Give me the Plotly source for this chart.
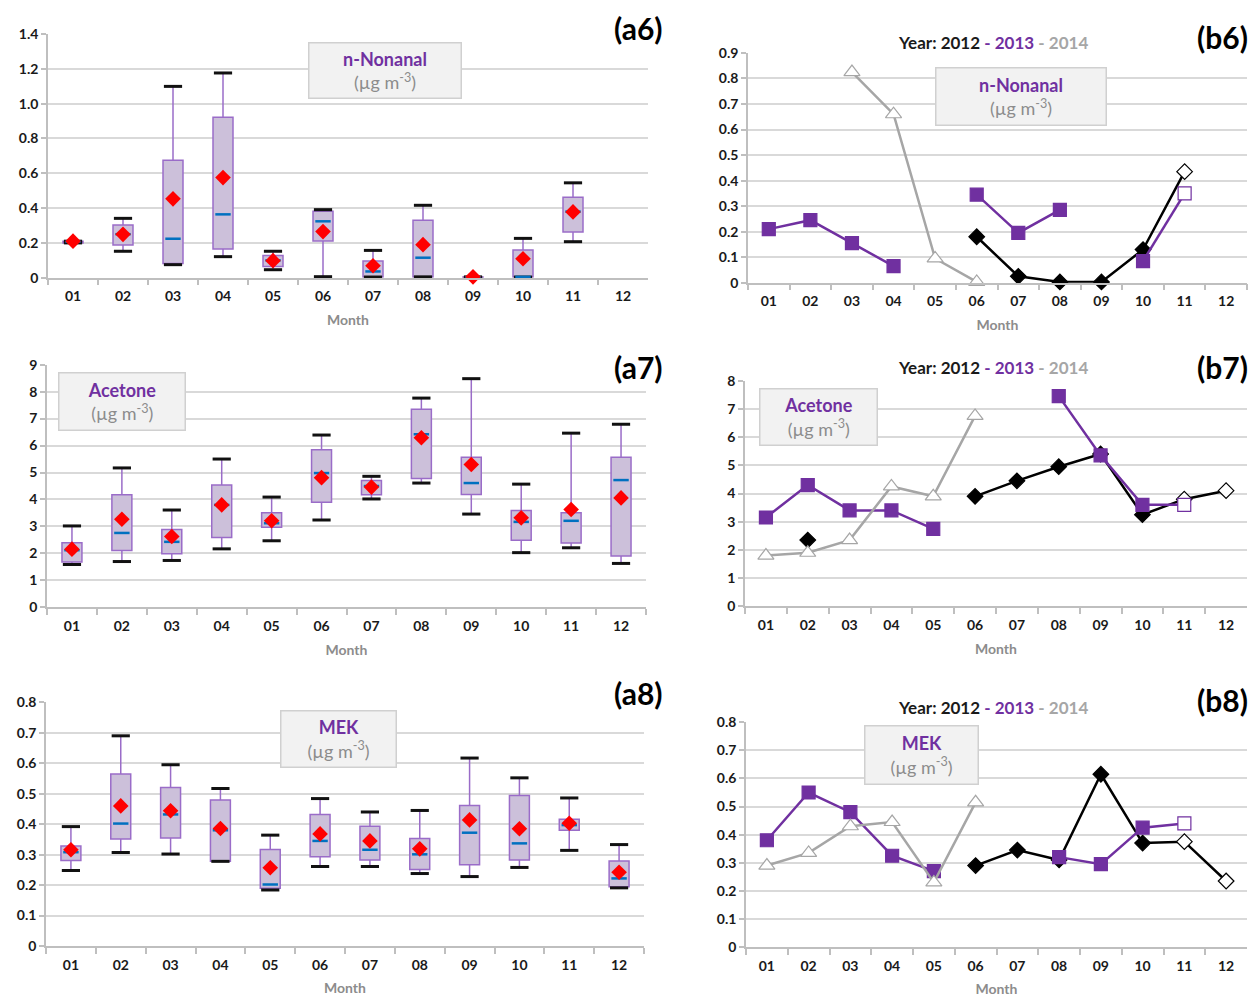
import plotly.graph_objects as go
from plotly.subplots import make_subplots

months = ["01", "02", "03", "04", "05", "06", "07", "08", "09", "10", "11", "12"]

# ---- (a) monthly box statistics ----
non_lower = [0.200, 0.152, 0.075, 0.121, 0.046, 0.006, 0.004, 0.005, 0.003, 0.004, 0.207, None]
non_q1 = [0.200, 0.188, 0.082, 0.165, 0.065, 0.211, 0.004, 0.004, 0.003, 0.004, 0.263, None]
non_median = [0.207, 0.250, 0.224, 0.364, 0.100, 0.324, 0.036, 0.115, 0.003, 0.005, 0.380, None]
non_q3 = [0.210, 0.303, 0.675, 0.922, 0.128, 0.382, 0.096, 0.330, 0.004, 0.159, 0.462, None]
non_upper = [0.210, 0.341, 1.099, 1.176, 0.152, 0.391, 0.157, 0.416, 0.004, 0.226, 0.545, None]
non_mean = [0.210, 0.249, 0.453, 0.575, 0.098, 0.265, 0.069, 0.190, 0.005, 0.109, 0.378, None]

ace_lower = [1.59, 1.70, 1.74, 2.17, 2.47, 3.24, 4.02, 4.61, 3.46, 2.03, 2.21, 1.63]
ace_q1 = [1.68, 2.11, 1.99, 2.59, 2.97, 3.90, 4.18, 4.78, 4.19, 2.49, 2.39, 1.91]
ace_median = [2.12, 2.76, 2.43, 3.80, 3.12, 4.98, 4.50, 6.42, 4.61, 3.17, 3.21, 4.72]
ace_q3 = [2.40, 4.18, 2.89, 4.54, 3.51, 5.84, 4.70, 7.35, 5.57, 3.59, 3.51, 5.57]
ace_upper = [3.02, 5.17, 3.61, 5.50, 4.09, 6.39, 4.86, 7.76, 8.48, 4.57, 6.46, 6.79]
ace_mean = [2.16, 3.27, 2.63, 3.80, 3.21, 4.81, 4.46, 6.29, 5.30, 3.32, 3.63, 4.06]

mek_lower = [0.248, 0.307, 0.302, 0.278, 0.184, 0.261, 0.261, 0.238, 0.228, 0.258, 0.314, 0.191]
mek_q1 = [0.281, 0.351, 0.355, 0.278, 0.190, 0.293, 0.282, 0.251, 0.267, 0.282, 0.380, 0.195]
mek_median = [0.308, 0.402, 0.432, 0.380, 0.202, 0.345, 0.316, 0.301, 0.372, 0.337, 0.397, 0.222]
mek_q3 = [0.328, 0.565, 0.520, 0.479, 0.317, 0.432, 0.393, 0.353, 0.461, 0.494, 0.416, 0.279]
mek_upper = [0.392, 0.690, 0.595, 0.517, 0.364, 0.484, 0.440, 0.445, 0.617, 0.552, 0.486, 0.333]
mek_mean = [0.316, 0.460, 0.444, 0.386, 0.257, 0.368, 0.345, 0.319, 0.414, 0.385, 0.403, 0.242]

# ---- (b) yearly monthly means ----
non_2012 = [None, None, None, None, None, 0.18, 0.025, 0.003, 0.003, 0.13, 0.435, None]
non_2013 = [0.21, 0.245, 0.155, 0.065, None, 0.345, 0.195, 0.285, None, 0.085, 0.35, None]
non_2014 = [None, None, 0.825, 0.66, 0.095, 0.003, None, None, None, None, None, None]

ace_2012 = [None, 2.35, None, None, None, 3.9, 4.45, 4.95, 5.4, 3.25, 3.8, 4.1]
ace_2013 = [3.15, 4.3, 3.4, 3.4, 2.75, None, None, 7.45, 5.35, 3.6, 3.6, None]
ace_2014 = [1.8, 1.9, 2.35, 4.25, 3.9, 6.75, None, None, None, None, None, None]

mek_2012 = [None, None, None, None, None, 0.29, 0.345, 0.31, 0.615, 0.37, 0.375, 0.235]
mek_2013 = [0.38, 0.55, 0.48, 0.325, 0.27, None, None, 0.32, 0.295, 0.425, 0.44, None]
mek_2014 = [0.29, 0.335, 0.43, 0.445, 0.23, 0.515, None, None, None, None, None, None]

# months drawn with open (white) markers
open_2012 = {"non": ["11"], "ace": ["11", "12"], "mek": ["11", "12"]}
open_2013 = ["11"]

PURPLE = "#7030a0"
BOXLINE = "#9a6cc8"
BOXFILL = "#ccc0da"
GRAY = "#a6a6a6"
GRID = "#d9d9d9"
FONT = "Lato"

fig = make_subplots(rows=3, cols=2)

W, H = 1252, 1000


def ty(y):
    # convert a target screen row into a page row (compensates the capture's vertical offset/scale)
    return (y - 8.0) / 0.984


def px_dom_x(a, b):
    return [a / W, b / W]


def px_dom_y(top, bottom):
    return [1 - ty(bottom) / H, 1 - ty(top) / H]


def add_box_panel(row, lower, q1, median, q3, upper, mean):
    xs = [m for m, v in zip(months, q1) if v is not None]
    q1s = [v for v in q1 if v is not None]
    q3s = [v for v in q3 if v is not None]
    fig.add_trace(go.Bar(x=xs, y=[b - a for a, b in zip(q1s, q3s)], base=q1s, width=0.4,
                         marker=dict(color=BOXFILL, line=dict(color=BOXLINE, width=1.5)),
                         showlegend=False, hoverinfo="skip"), row=row, col=1)
    wx, wy = [], []
    for m, lo, a, b, hi in zip(months, lower, q1, q3, upper):
        if lo is None:
            continue
        wx += [m, m, None, m, m, None]
        wy += [lo, a, None, b, hi, None]
    fig.add_trace(go.Scatter(x=wx, y=wy, mode="lines", line=dict(color=BOXLINE, width=1.5),
                             showlegend=False, hoverinfo="skip"), row=row, col=1)
    fig.add_trace(go.Scatter(x=months + months, y=lower + upper, mode="markers",
                             marker=dict(symbol="line-ew", size=13, line=dict(color="#111111", width=3)),
                             showlegend=False, cliponaxis=False), row=row, col=1)
    fig.add_trace(go.Scatter(x=months, y=median, mode="markers",
                             marker=dict(symbol="line-ew", size=11, line=dict(color="#0070c0", width=2.5)),
                             showlegend=False, cliponaxis=False), row=row, col=1)
    fig.add_trace(go.Scatter(x=months, y=mean, mode="markers",
                             marker=dict(symbol="diamond", size=12, color="#ff0000"),
                             showlegend=False, cliponaxis=False), row=row, col=1)


def add_line_panel(row, y12, y13, y14, open12):
    c12 = ["white" if m in open12 else "black" for m in months]
    c13 = ["white" if m in open_2013 else PURPLE for m in months]
    fig.add_trace(go.Scatter(x=months, y=y12, mode="lines+markers", line=dict(color="black", width=2.5),
                             marker=dict(symbol="diamond", size=12, color=c12, line=dict(color="black", width=1.2)),
                             showlegend=False, cliponaxis=False), row=row, col=2)
    fig.add_trace(go.Scatter(x=months, y=y13, mode="lines+markers", line=dict(color=PURPLE, width=2.5),
                             marker=dict(symbol="square", size=13, color=c13, line=dict(color=PURPLE, width=1.2)),
                             showlegend=False, cliponaxis=False), row=row, col=2)
    fig.add_trace(go.Scatter(x=months, y=y14, mode="lines+markers", line=dict(color=GRAY, width=2.5),
                             marker=dict(symbol="triangle-up", size=14, color="white", line=dict(color=GRAY, width=1.2)),
                             showlegend=False, cliponaxis=False), row=row, col=2)


add_box_panel(1, non_lower, non_q1, non_median, non_q3, non_upper, non_mean)
add_box_panel(2, ace_lower, ace_q1, ace_median, ace_q3, ace_upper, ace_mean)
add_box_panel(3, mek_lower, mek_q1, mek_median, mek_q3, mek_upper, mek_mean)
add_line_panel(1, non_2012, non_2013, non_2014, open_2012["non"])
add_line_panel(2, ace_2012, ace_2013, ace_2014, open_2012["ace"])
add_line_panel(3, mek_2012, mek_2013, mek_2014, open_2012["mek"])

# axis geometry (pixels)
panels = {
    (1, 1): dict(x=(48, 648), y=(33, 277), yr=[0, 1.4], tv=[0, 0.2, 0.4, 0.6, 0.8, 1.0, 1.2, 1.4],
                 tt=["0", "0.2", "0.4", "0.6", "0.8", "1.0", "1.2", "1.4"]),
    (1, 2): dict(x=(748, 1247), y=(52, 282), yr=[0, 0.9], tv=[0, 0.1, 0.2, 0.3, 0.4, 0.5, 0.6, 0.7, 0.8, 0.9],
                 tt=["0", "0.1", "0.2", "0.3", "0.4", "0.5", "0.6", "0.7", "0.8", "0.9"]),
    (2, 1): dict(x=(47, 646), y=(364, 607), yr=[0, 9], tv=list(range(10)), tt=[str(i) for i in range(10)]),
    (2, 2): dict(x=(745, 1247), y=(380, 606), yr=[0, 8], tv=list(range(9)), tt=[str(i) for i in range(9)]),
    (3, 1): dict(x=(46, 644), y=(702, 946), yr=[0, 0.8], tv=[0, 0.1, 0.2, 0.3, 0.4, 0.5, 0.6, 0.7, 0.8],
                 tt=["0", "0.1", "0.2", "0.3", "0.4", "0.5", "0.6", "0.7", "0.8"]),
    (3, 2): dict(x=(746, 1247), y=(722, 947), yr=[0, 0.8], tv=[0, 0.1, 0.2, 0.3, 0.4, 0.5, 0.6, 0.7, 0.8],
                 tt=["0", "0.1", "0.2", "0.3", "0.4", "0.5", "0.6", "0.7", "0.8"]),
}

for (r, c), p in panels.items():
    fig.update_xaxes(domain=px_dom_x(*p["x"]), type="category", categoryorder="array", categoryarray=months,
                     range=[-0.5, 11.5], showline=True, linecolor="#bfbfbf", linewidth=1.5,
                     ticks="outside", tickson="boundaries", ticklen=6, tickcolor="#bfbfbf", tickwidth=1.5,
                     ticklabelstandoff=5,
                     tickfont=dict(family=FONT, size=14, color="#1a1a1a", weight="bold"),
                     showgrid=False, zeroline=False,
                     title=dict(text="Month", standoff=12,
                                font=dict(family=FONT, size=14, color="#8c8c8c", weight="bold")),
                     row=r, col=c)
    fig.update_yaxes(domain=px_dom_y(*p["y"]), range=p["yr"], tickvals=p["tv"], ticktext=p["tt"],
                     showline=True, linecolor="#bfbfbf", linewidth=1.5, ticks="outside", ticklen=5,
                     tickcolor="#bfbfbf", tickwidth=1.5, showgrid=True, gridcolor=GRID, gridwidth=1.5,
                     zeroline=False, tickfont=dict(family=FONT, size=14, color="#1a1a1a", weight="bold"),
                     row=r, col=c)

annotations = []

# panel labels
for txt, x, y in [("(a6)", 638, 27), ("(b6)", 1222, 36), ("(a7)", 638, 366),
                  ("(b7)", 1222, 366), ("(a8)", 638, 693), ("(b8)", 1222, 700)]:
    annotations.append(dict(text="<b>" + txt + "</b>", x=x / W, y=1 - ty(y) / H, xref="paper", yref="paper",
                            xanchor="center", yanchor="middle",
                            showarrow=False, font=dict(family=FONT, size=30, color="black")))

# year titles
year_txt = ("<b>Year: 2012 <span style='color:%s'>-</span> <span style='color:%s'>2013</span> "
            "<span style='color:%s'>-</span> <span style='color:%s'>2014</span></b>") % (PURPLE, PURPLE, GRAY, GRAY)
for y in [42, 367, 707]:
    annotations.append(dict(text=year_txt, x=993 / W, y=1 - ty(y) / H, xref="paper", yref="paper",
                            xanchor="center", yanchor="middle",
                            showarrow=False, font=dict(family=FONT, size=17, color="#1a1a1a")))

# species boxes
for name, x0, x1, y0, y1 in [("n-Nonanal", 308, 461, 42, 98), ("n-Nonanal", 935, 1106, 67, 125),
                             ("Acetone", 58, 185, 372, 430), ("Acetone", 759, 877, 388, 445),
                             ("MEK", 280, 396, 710, 767), ("MEK", 864, 978, 725, 784)]:
    annotations.append(dict(
        text="<span style='color:%s'><b>%s</b></span><br><span style='color:#8c8c8c'>(µg m<sup>-3</sup>)</span>"
             % (PURPLE, name),
        x=(x0 + x1) / 2 / W, y=1 - ty((y0 + y1) / 2) / H, xref="paper", yref="paper", showarrow=False,
        xanchor="center", yanchor="middle",
        width=x1 - x0 - 4, height=y1 - y0 - 4, bgcolor="#f2f2f2", bordercolor="#d0d0d0", borderwidth=1.5,
        font=dict(family=FONT, size=18), align="center", valign="middle"))

fig.update_layout(width=W, height=H, margin=dict(l=0, r=0, t=0, b=0), plot_bgcolor="white",
                  paper_bgcolor="white", showlegend=False, annotations=annotations, barmode="overlay",
                  font=dict(family=FONT))

fig.write_html("out.html", config={"displayModeBar": False},
               post_script="document.body.style.margin='0';document.body.style.overflow='hidden';")
